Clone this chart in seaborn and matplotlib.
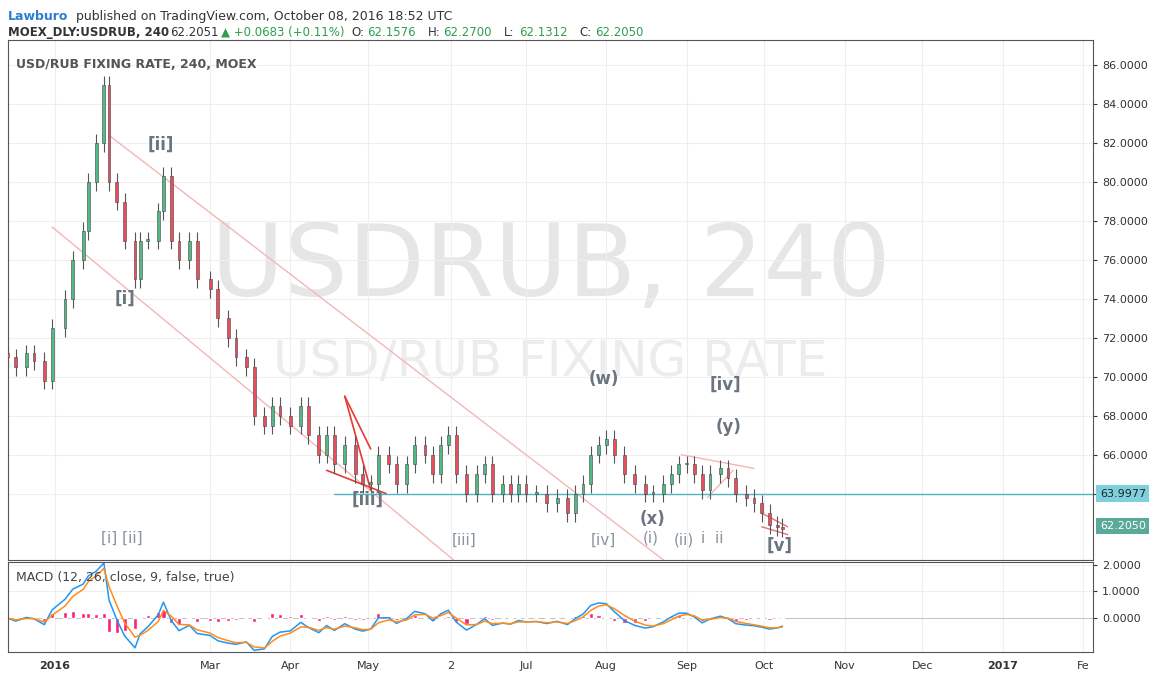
import seaborn as sns
import matplotlib.pyplot as plt
import matplotlib.dates as mdates
import pandas as pd
import numpy as np

# approx. closes (about every 3 days)
dates = ['2015-12-14', '2015-12-17', '2015-12-21', '2015-12-24', '2015-12-28', '2015-12-31',
         '2016-01-05', '2016-01-08', '2016-01-12', '2016-01-14', '2016-01-17', '2016-01-20',
         '2016-01-22', '2016-01-25', '2016-01-28', '2016-02-01', '2016-02-03', '2016-02-06',
         '2016-02-10', '2016-02-12', '2016-02-15', '2016-02-18', '2016-02-22', '2016-02-25',
         '2016-03-01', '2016-03-04', '2016-03-08', '2016-03-11', '2016-03-15', '2016-03-18',
         '2016-03-22', '2016-03-25', '2016-03-28', '2016-04-01', '2016-04-05', '2016-04-08',
         '2016-04-12', '2016-04-15', '2016-04-18', '2016-04-22', '2016-04-26', '2016-04-29',
         '2016-05-02', '2016-05-05', '2016-05-09', '2016-05-12', '2016-05-16', '2016-05-19',
         '2016-05-23', '2016-05-26', '2016-05-29', '2016-06-01', '2016-06-04', '2016-06-08',
         '2016-06-12', '2016-06-15', '2016-06-18', '2016-06-22', '2016-06-25', '2016-06-28',
         '2016-07-01', '2016-07-05', '2016-07-09', '2016-07-13', '2016-07-17', '2016-07-20',
         '2016-07-23', '2016-07-26', '2016-07-29', '2016-08-01', '2016-08-04', '2016-08-08',
         '2016-08-12', '2016-08-16', '2016-08-19', '2016-08-23', '2016-08-26', '2016-08-29',
         '2016-09-01', '2016-09-04', '2016-09-07', '2016-09-10', '2016-09-14', '2016-09-17',
         '2016-09-20', '2016-09-24', '2016-09-27', '2016-09-30', '2016-10-03', '2016-10-06',
         '2016-10-08']
closes = [71.0, 70.5, 71.2, 70.8, 69.8, 72.5,
          74.0, 76.0, 77.5, 80.0, 82.0, 85.0,
          80.0, 79.0, 77.0, 75.0, 77.0, 77.0,
          78.5, 80.3, 77.0, 76.0, 77.0, 75.0,
          74.5, 73.0, 72.0, 71.0, 70.5, 68.0,
          67.5, 68.5, 68.0, 67.5, 68.5, 67.0,
          66.0, 67.0, 65.5, 66.5, 65.0, 64.5,
          64.5, 66.0, 65.5, 64.5, 65.5, 66.5,
          66.0, 65.0, 66.5, 67.0, 65.0, 64.0,
          65.0, 65.5, 64.0, 64.5, 64.0, 64.5,
          64.0, 64.0, 63.5, 63.8, 63.0, 64.0,
          64.5, 66.0, 66.5, 66.8, 66.0, 65.0,
          64.5, 64.0, 64.0, 64.5, 65.0, 65.5,
          65.5, 65.0, 64.2, 65.0, 65.3, 64.8,
          64.0, 63.8, 63.5, 63.0, 62.4, 62.3,
          62.2]
first_open = 71.2

month_ticks = ['2016-01-01', '2016-03-01', '2016-04-01', '2016-05-01', '2016-06-02', '2016-07-01',
               '2016-08-01', '2016-09-01', '2016-10-01', '2016-11-01', '2016-12-01', '2017-01-01',
               '2017-02-01']
month_labels = ['2016', 'Mar', 'Apr', 'May', '2', 'Jul', 'Aug', 'Sep', 'Oct', 'Nov', 'Dec', '2017', 'Fe']
price_ticks = [64, 66, 68, 70, 72, 74, 76, 78, 80, 82, 84, 86]
macd_ticks = [0.0, 1.0, 2.0]

df = pd.DataFrame({'date': pd.to_datetime(dates), 'close': closes})
df['open'] = df['close'].shift(1).fillna(first_open)
df['high'] = df[['open', 'close']].max(axis=1) + 0.45
df['low'] = df[['open', 'close']].min(axis=1) - 0.45
ema_f = df['close'].ewm(span=2.5, adjust=False).mean()
ema_s = df['close'].ewm(span=4.5, adjust=False).mean()
df['macd'] = ema_f - ema_s
df['signal'] = df['macd'].ewm(span=2.5, adjust=False).mean()
df['hist'] = df['macd'] - df['signal']

sns.set_style('white')
plt.rcParams['font.family'] = ['DejaVu Sans']
fig = plt.figure(figsize=(11.52, 6.77), dpi=100)
ax = fig.add_axes([0.007, 0.173, 0.942, 0.768])
ax2 = fig.add_axes([0.007, 0.037, 0.942, 0.133], sharex=ax)

up, down = '#53b987', '#eb4d5c'
x = mdates.date2num(df['date'])
colors = [up if c >= o else down for o, c in zip(df['open'], df['close'])]
ax.vlines(x, df['low'], df['high'], color='#555555', lw=0.8, zorder=3)
ax.bar(x, (df['close'] - df['open']).abs().clip(lower=0.1), bottom=df[['open', 'close']].min(axis=1),
       width=1.1, color=colors, edgecolor='#444444', lw=0.4, zorder=4)

D = lambda s: mdates.date2num(pd.Timestamp(s))
ax.set_xlim(D('2015-12-14'), D('2017-02-05'))
ax.set_ylim(60.6, 87.3)

# watermark
ax.text(0.5, 0.56, 'USDRUB, 240', transform=ax.transAxes, fontsize=72, color='#e6e6e6',
        ha='center', va='center', zorder=0)
ax.text(0.5, 0.38, 'USD/RUB FIXING RATE', transform=ax.transAxes, fontsize=36, color='#ececec',
        ha='center', va='center', zorder=0)
ax.text(0.007, 0.965, 'USD/RUB FIXING RATE, 240, MOEX', transform=ax.transAxes, fontsize=9,
        color='#555555', fontweight='bold', va='top')

# trend lines
pink = '#f4b6b6'
ax.plot([D('2016-01-22'), D('2016-08-23')], [82.4, 60.6], color=pink, lw=1)
ax.plot([D('2015-12-31'), D('2016-06-03')], [77.7, 60.6], color=pink, lw=1)
ax.plot([D('2016-04-22'), D('2016-05-02')], [69.0, 66.3], color='#e53935', lw=1.2)
ax.plot([D('2016-04-22'), D('2016-05-02')], [69.0, 64.2], color='#e53935', lw=1.2)
ax.plot([D('2016-04-15'), D('2016-05-08')], [65.2, 64.0], color='#e53935', lw=1.2)
ax.plot([D('2016-08-30'), D('2016-09-27')], [66.0, 65.3], color=pink, lw=1)
ax.plot([D('2016-09-09'), D('2016-09-19')], [63.8, 65.2], color=pink, lw=1)
ax.plot([D('2016-09-30'), D('2016-10-10')], [63.0, 62.3], color='#e57373', lw=1)
ax.plot([D('2016-09-30'), D('2016-10-10')], [62.3, 61.9], color='#e57373', lw=1)
ax.plot([D('2016-04-18'), D('2017-02-05')], [64.0, 64.0], color='#4fb6c2', lw=1)

dark = '#6a7580'
light = '#8a949c'
for d, p, t in [('2016-02-11', 81.9, '[ii]'), ('2016-01-28', 74.0, '[i]'),
                ('2016-05-01', 63.7, '[iii]'), ('2016-07-31', 69.9, '(w)'),
                ('2016-09-16', 69.6, '[iv]'), ('2016-09-17', 67.4, '(y)'),
                ('2016-08-19', 62.7, '(x)'), ('2016-10-07', 61.3, '[v]')]:
    ax.text(D(d), p, t, fontsize=12, fontweight='bold', color=dark, ha='center', va='center')
for d, p, t in [('2016-01-27', 61.7, '[i] [ii]'), ('2016-06-07', 61.6, '[iii]'),
                ('2016-07-31', 61.6, '[iv]'), ('2016-08-18', 61.7, '(i)'),
                ('2016-08-31', 61.6, '(ii)'), ('2016-09-11', 61.7, 'i  ii')]:
    ax.text(D(d), p, t, fontsize=11, color=light, ha='center', va='center')

# axes styling
for a in (ax, ax2):
    a.yaxis.tick_right()
    a.grid(True, color='#efefef', lw=0.8)
    for s in a.spines.values():
        s.set_color('#555555')
        s.set_linewidth(0.8)
    a.tick_params(axis='y', labelsize=8, colors='#333333', length=3)
ax.set_yticks(price_ticks)
ax.set_yticklabels(['' if v == 64 else f'{v:.4f}' for v in price_ticks])
ax.set_xticks([D(t) for t in month_ticks])
plt.setp(ax.get_xticklabels(), visible=False)
ax.tick_params(axis='x', length=0)

# price labels
ax.text(1.006, (64.0 - 60.6) / 26.7, '63.9977', transform=ax.transAxes, fontsize=8, va='center',
        color='#222222', bbox=dict(boxstyle='square,pad=0.3', fc='#7ed0dc', ec='none'))
ax.text(1.006, (62.205 - 60.6) / 26.7 + 0.005, '62.2050', transform=ax.transAxes, fontsize=8, va='center',
        color='white', bbox=dict(boxstyle='square,pad=0.3', fc='#5ba99a', ec='none'))

# MACD
ax2.bar(x, df['hist'], width=1.6, color='#ff1f7a', zorder=2)
sns.lineplot(x=x, y=df['macd'], ax=ax2, color='#2196f3', lw=1.1)
sns.lineplot(x=x, y=df['signal'], ax=ax2, color='#ff8c1a', lw=1.1)
ax2.axhline(0, color='#bbbbbb', lw=0.6, zorder=1)
ax2.set_ylim(-1.25, 2.1)
ax2.set_yticks(macd_ticks)
ax2.set_yticklabels([f'{v:.4f}' for v in macd_ticks])
ax2.set_xticklabels(month_labels)
ax2.tick_params(axis='x', labelsize=8, colors='#333333', length=3)
for lbl in ax2.get_xticklabels():
    if lbl.get_text() in ('2016', '2017'):
        lbl.set_fontweight('bold')
ax2.set_ylabel('')
ax2.text(0.007, 0.9, 'MACD (12, 26, close, 9, false, true)', transform=ax2.transAxes,
         fontsize=9, color='#444444', va='top')

# header
fig.text(0.007, 0.985, 'Lawburo', fontsize=9, color='#2a7fd4', fontweight='bold', va='top')
fig.text(0.066, 0.985, 'published on TradingView.com, October 08, 2016 18:52 UTC', fontsize=9,
         color='#333333', va='top')
fig.text(0.007, 0.962, 'MOEX_DLY:USDRUB, 240', fontsize=8.5, fontweight='bold', color='#333333', va='top')
fig.text(0.148, 0.962, '62.2051', fontsize=8.5, color='#333333', va='top')
fig.text(0.192, 0.962, '\u25b2 +0.0683 (+0.11%)', fontsize=8.5, color='#2e9e4f', va='top')
parts = [('O:', '62.1576'), ('H:', '62.2700'), ('L:', '62.1312'), ('C:', '62.2050')]
px = 0.305
for k, v in parts:
    fig.text(px, 0.962, k, fontsize=8.5, color='#333333', va='top')
    fig.text(px + 0.014, 0.962, v, fontsize=8.5, color='#2e9e4f', va='top')
    px += 0.066

fig.savefig('out.png', dpi=100)
